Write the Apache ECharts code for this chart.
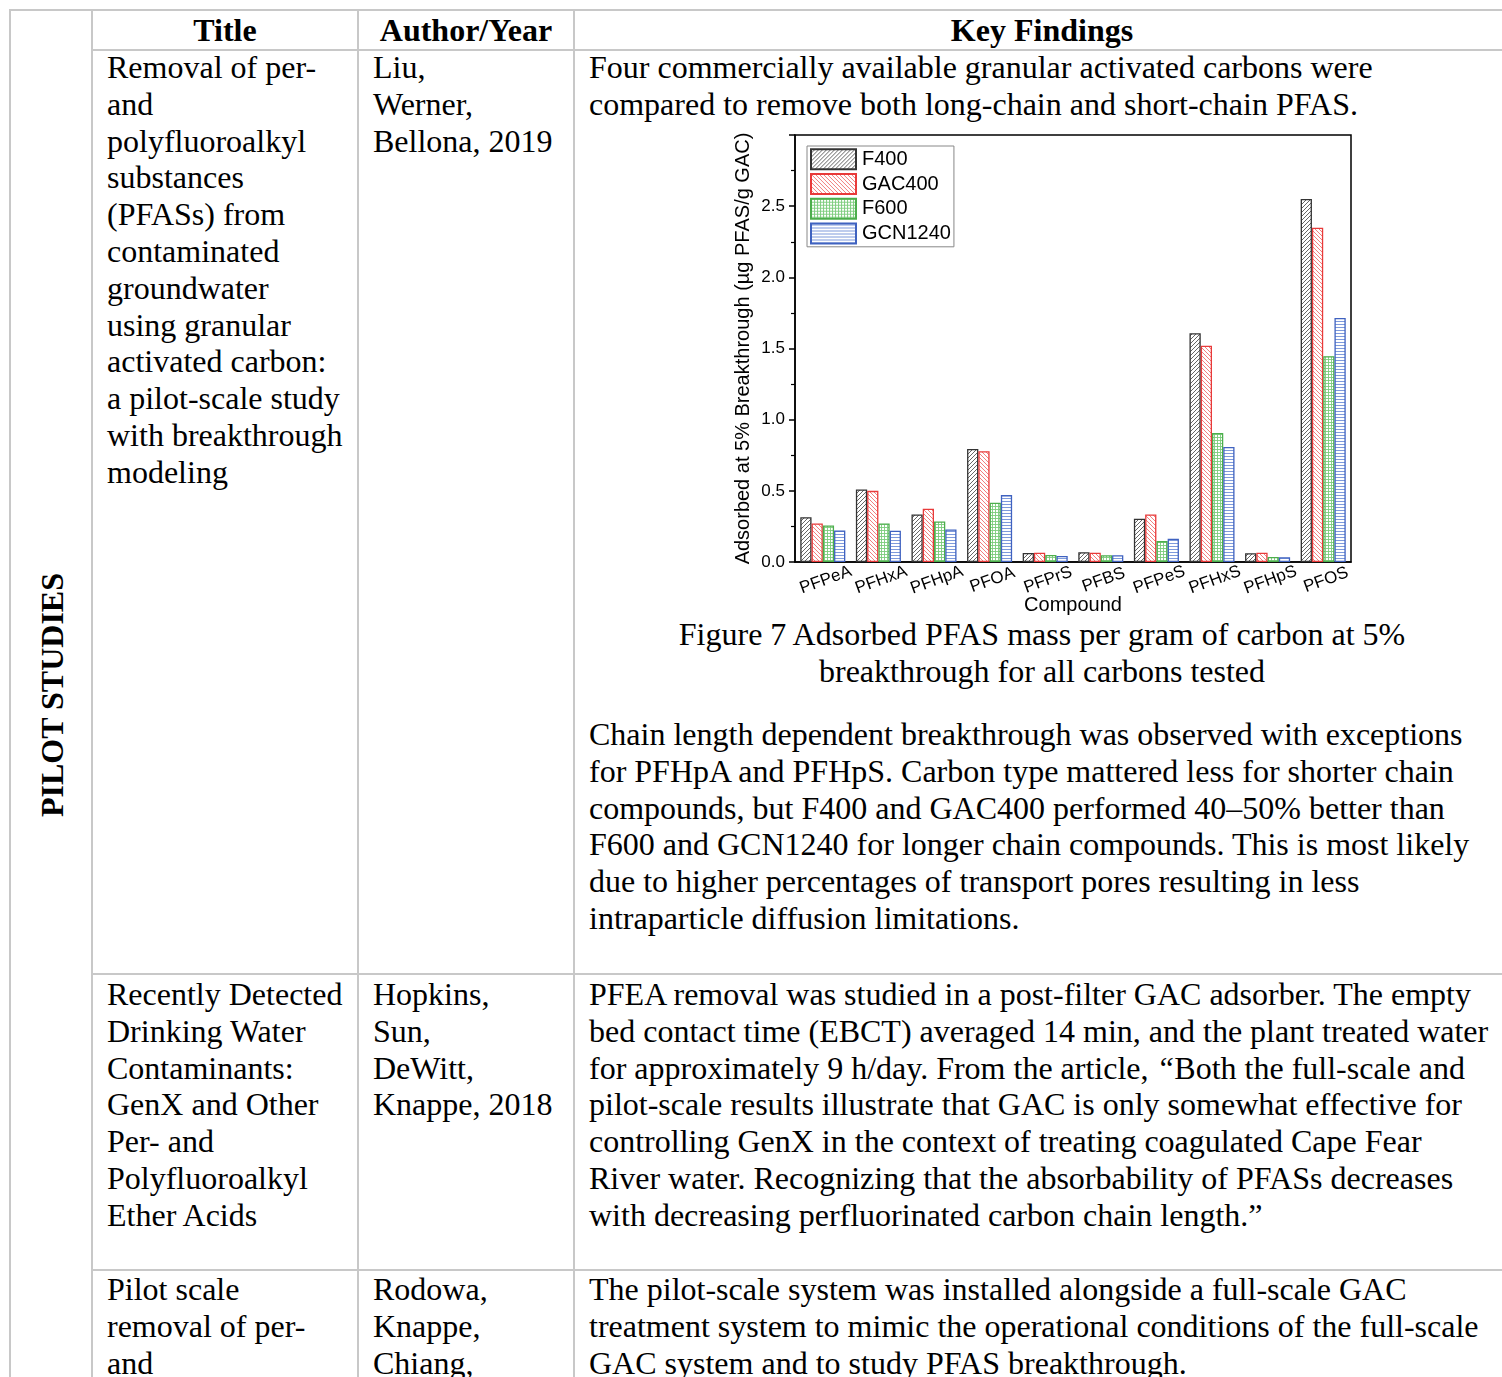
<!DOCTYPE html>
<html>
<head>
<meta charset="utf-8">
<script src="https://cdn.jsdelivr.net/npm/echarts@6/dist/echarts.min.js"></script>
<style>
  html, body { margin:0; padding:0; background:#fff; }
  body { width:1502px; height:1377px; overflow:hidden; position:relative;
         font-family:"Liberation Serif","Times New Roman",serif; color:#000; }
  .ln { position:absolute; background:#c8c8c8; }
  .t { position:absolute; font-size:32px; line-height:36.8px; white-space:nowrap; }
  .b { font-weight:bold; }
  .c { transform:translateX(-50%); }
  #chart { position:absolute; left:728px; top:122px; width:640px; height:500px; }
  #vert { position:absolute; left:52px; top:695px; font-size:32px; font-weight:bold; white-space:nowrap;
          transform:translate(-50%,-50%) rotate(-90deg); line-height:36.8px; }
</style>
</head>
<body>
<div id="lines"></div>
<div id="texts"></div>
<div id="vert">PILOT STUDIES</div>
<div id="chart"></div>
<script>
// ---- chart data ----
const categories = ['PFPeA','PFHxA','PFHpA','PFOA','PFPrS','PFBS','PFPeS','PFHxS','PFHpS','PFOS'];
const seriesNames = ['F400','GAC400','F600','GCN1240'];
const f400    = [0.315, 0.510, 0.334, 0.794, 0.063, 0.068, 0.304, 1.607, 0.061, 2.551];
const gac400  = [0.270, 0.500, 0.374, 0.778, 0.065, 0.065, 0.334, 1.519, 0.065, 2.348];
const f600    = [0.257, 0.270, 0.285, 0.416, 0.049, 0.047, 0.147, 0.907, 0.035, 1.446];
const gcn1240 = [0.222, 0.220, 0.229, 0.470, 0.042, 0.047, 0.164, 0.808, 0.033, 1.715];
const yMin = 0, yMax = 3, yInterval = 0.5;
const yAxisName = 'Adsorbed at 5% Breakthrough (\u00B5g PFAS/g GAC)';
const xAxisName = 'Compound';

// ---- table text ----
const headers = [['Title',225],['Author/Year',466],['Key Findings',1042]];
const row1Title = ['Removal of per-','and','polyfluoroalkyl','substances','(PFASs) from','contaminated','groundwater','using granular','activated carbon:','a pilot-scale study','with breakthrough','modeling'];
const row1Author = ['Liu,','Werner,','Bellona, 2019'];
const row1Intro = ['Four commercially available granular activated carbons were','compared to remove both long-chain and short-chain PFAS.'];
const row1Caption = ['Figure 7 Adsorbed PFAS mass per gram of carbon at 5%','breakthrough for all carbons tested'];
const row1Para = ['Chain length dependent breakthrough was observed with exceptions','for PFHpA and PFHpS. Carbon type mattered less for shorter chain','compounds, but F400 and GAC400 performed 40\u201350% better than','F600 and GCN1240 for longer chain compounds. This is most likely','due to higher percentages of transport pores resulting in less','intraparticle diffusion limitations.'];
const row2Title = ['Recently Detected','Drinking Water','Contaminants:','GenX and Other','Per- and','Polyfluoroalkyl','Ether Acids'];
const row2Author = ['Hopkins,','Sun,','DeWitt,','Knappe, 2018'];
const row2Para = ['PFEA removal was studied in a post-filter GAC adsorber. The empty','bed contact time (EBCT) averaged 14 min, and the plant treated water','for approximately 9 h/day. From the article, <i>\u201C</i>Both the full-scale and','pilot-scale results illustrate that GAC is only somewhat effective for','controlling GenX in the context of treating coagulated Cape Fear','River water. Recognizing that the absorbability of PFASs decreases','with decreasing perfluorinated carbon chain length.\u201D'];
const row3Title = ['Pilot scale','removal of per-','and'];
const row3Author = ['Rodowa,','Knappe,','Chiang,'];
const row3Para = ['The pilot-scale system was installed alongside a full-scale GAC','treatment system to mimic the operational conditions of the full-scale','GAC system and to study PFAS breakthrough.'];

// ---- build table ----
const LH = 36.8;
const linesEl = document.getElementById('lines');
function line(x,y,w,h){ const d=document.createElement('div'); d.className='ln';
  d.style.left=x+'px'; d.style.top=y+'px'; d.style.width=w+'px'; d.style.height=h+'px'; linesEl.appendChild(d); }
line(9,9,1500,2);
[9,91,357,573].forEach(x=>line(x,9,2,1400));
[49,973,1269].forEach(y=>line(91,y,1420,2));

const textsEl = document.getElementById('texts');
function put(arr,x,top,cls){ arr.forEach((s,i)=>{ const d=document.createElement('div');
  d.className='t'+(cls?' '+cls:''); d.innerHTML=s; d.style.left=x+'px'; d.style.top=(top+i*LH)+'px'; textsEl.appendChild(d); }); }
headers.forEach(h=>put([h[0]],h[1],12,'b c'));
put(row1Title,107,49);
put(row1Author,373,49);
put(row1Intro,589,49);
put(row1Caption,1042,616,'c');
put(row1Para,589,716);
put(row2Title,107,976);
put(row2Author,373,976);
put(row2Para,589,976);
put(row3Title,107,1271);
put(row3Author,373,1271);
put(row3Para,589,1271);

// ---- patterns ----
function pattern(kind, color){
  const c=document.createElement('canvas');
  const s = (kind==='h' || kind==='x') ? 3 : 4;
  c.width=s; c.height=s;
  const g=c.getContext('2d');
  g.fillStyle='#fff'; g.fillRect(0,0,s,s);
  g.strokeStyle=color; g.lineWidth=0.9;
  g.beginPath();
  if(kind==='/'){ g.moveTo(-1,s+1); g.lineTo(s+1,-1); g.moveTo(-1,1); g.lineTo(1,-1); g.moveTo(s-1,s+1); g.lineTo(s+1,s-1); }
  else if(kind==='\\'){ g.moveTo(-1,-1); g.lineTo(s+1,s+1); g.moveTo(s-1,-1); g.lineTo(s+1,1); g.moveTo(-1,s-1); g.lineTo(1,s+1); }
  else if(kind==='x'){ g.moveTo(0,0.5); g.lineTo(s,0.5); g.moveTo(0.5,0); g.lineTo(0.5,s); }
  else if(kind==='h'){ g.moveTo(0,1.5); g.lineTo(s,1.5); }
  g.stroke();
  return {image:c, repeat:'repeat'};
}
const styles = [
  {kind:'/',  line:'#555555', border:'#333333'},
  {kind:'\\', line:'#f07070', border:'#e83a3a'},
  {kind:'x',  line:'#7ccc7c', border:'#4cae4c'},
  {kind:'h',  line:'#6f8fd8', border:'#3f62c0'}
];
const values = [f400, gac400, f600, gcn1240];

const FONT = '"Liberation Sans", Arial, sans-serif';
const chart = echarts.init(document.getElementById('chart'), null, {renderer:'canvas'});
chart.setOption({
  animation:false,
  textStyle:{fontFamily:FONT, color:'#000'},
  grid:{left:67, top:13, width:556, height:427, show:true, borderColor:'#000', borderWidth:1.5,
        backgroundColor:'transparent', containLabel:false, outerBoundsMode:'none'},
  legend:{
    data:seriesNames, orient:'vertical', left:79, top:24,
    itemWidth:45, itemHeight:20, itemGap:2, icon:'rect',
    padding:[2,3,2,3], borderColor:'#888', borderWidth:1,
    textStyle:{fontFamily:FONT, fontSize:20, lineHeight:22.7, color:'#000', padding:[0,0,0,1]},
    selectedMode:false
  },
  xAxis:[{
    type:'category', data:categories, position:'bottom',
    axisLine:{lineStyle:{color:'#000', width:1.5}},
    axisTick:{alignWithLabel:true, length:6, lineStyle:{color:'#000', width:1.5}},
    axisLabel:{rotate:20, align:'center', verticalAlign:'top', margin:10, fontSize:17, color:'#000', fontFamily:FONT, interval:0},
    name:xAxisName, nameLocation:'middle', nameGap:33, nameMoveOverlap:false,
    nameTextStyle:{fontSize:20, color:'#000', fontFamily:FONT, verticalAlign:'top'}
  },{
    type:'category', data:categories, position:'bottom', gridIndex:0,
    axisLine:{show:false}, axisLabel:{show:false},
    axisTick:{length:4, lineStyle:{color:'#000', width:1.2}}
  }],
  yAxis:{
    type:'value', min:yMin, max:yMax, interval:yInterval,
    axisLine:{show:true, lineStyle:{color:'#000', width:1.5}},
    axisTick:{show:true, length:6, lineStyle:{color:'#000', width:1.5}},
    minorTick:{show:true, splitNumber:2, length:4, lineStyle:{color:'#000', width:1.2}},
    splitLine:{show:false},
    axisLabel:{fontSize:17, color:'#000', fontFamily:FONT, margin:10, showMaxLabel:false,
      formatter:v=>v.toFixed(1)},
    name:yAxisName, nameLocation:'middle', nameGap:42, nameRotate:90, nameMoveOverlap:false,
    nameTextStyle:{fontSize:20, color:'#000', fontFamily:FONT}
  },
  series: seriesNames.map((n,i)=>({
    name:n, type:'bar', data:values[i], barGap:'0%', barCategoryGap:'19%',
    itemStyle:{color:pattern(styles[i].kind, styles[i].line), borderColor:styles[i].border, borderWidth:1.3}
  }))
});
</script>
</body>
</html>
